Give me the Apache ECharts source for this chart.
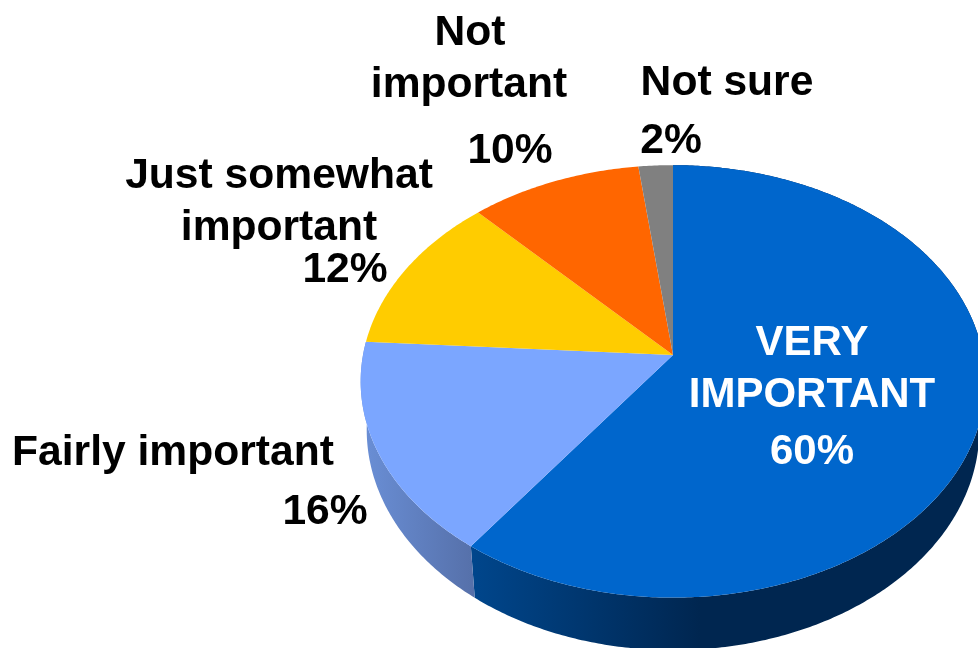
<!DOCTYPE html>
<html>
<head>
<meta charset="utf-8">
<style>
  html, body { margin: 0; padding: 0; background: #fff; overflow: hidden; }
  #chart { width: 978px; height: 648px; }
</style>
<script src="https://cdn.jsdelivr.net/npm/echarts@6/dist/echarts.min.js"></script>
</head>
<body>
<div id="chart"></div>
<script>
// slices, clockwise from 12 o'clock
var categories = ['VERY IMPORTANT', 'Fairly important', 'Just somewhat important', 'Not important', 'Not sure'];
var values = [60, 16, 12, 10, 2];
var colors = ['#0066cc', '#7ba6ff', '#ffcc00', '#ff6600', '#808080'];

// text lines per slice: [text, x, y, align]
var labelLines = [
  [['VERY', 812, 343, 'center'], ['IMPORTANT', 812, 395, 'center'], ['60%', 812, 452, 'center']],
  [['Fairly important', 173, 453, 'center'], ['16%', 325, 512, 'center']],
  [['Just somewhat', 279, 176, 'center'], ['important', 279, 228, 'center'], ['12%', 345, 270, 'center']],
  [['Not', 470, 33, 'center'], ['important', 469, 85, 'center'], ['10%', 510, 151, 'center']],
  [['Not sure', 727, 83, 'center'], ['2%', 671, 141, 'center']]
];

var total = values.reduce(function (a, b) { return a + b; }, 0);

// tilted disc: perspective projection of a circle
var cx = 673;
var persp = 0.122;
var topFace = { cy: 355, rx: 310, ry: 213 };
var bottomFace = { cy: 403, rx: 304, ry: 217 };

function project(face, a) {
  var u = Math.sin(a);
  var v = -Math.cos(a);
  var d = 1 - persp * v;
  return [cx + face.rx * u / d, face.cy + face.ry * v / d];
}

function arcPoints(face, a0, a1) {
  var pts = [];
  var n = Math.max(2, Math.ceil((a1 - a0) / 0.01));
  for (var i = 0; i <= n; i++) {
    pts.push(project(face, a0 + (a1 - a0) * i / n));
  }
  return pts;
}

function sliceAngles(idx) {
  var before = 0;
  for (var i = 0; i < idx; i++) before += values[i];
  return [before / total * 2 * Math.PI, (before + values[idx]) / total * 2 * Math.PI];
}

var wallFills = [
  new echarts.graphic.LinearGradient(472, 0, 700, 0, [
    { offset: 0, color: '#00468c' },
    { offset: 1, color: '#002650' }
  ], true),
  new echarts.graphic.LinearGradient(362, 0, 478, 0, [
    { offset: 0, color: '#6a8fd6' },
    { offset: 1, color: '#556fa8' }
  ], true)
];

var seriesData = values.map(function (v, i) { return { name: categories[i], value: v }; });

option = {
  animation: false,
  series: [
    {
      // side wall, only the two front slices show it
      type: 'custom',
      coordinateSystem: 'none',
      silent: true,
      z: 1,
      data: seriesData,
      renderItem: function (params) {
        var i = params.dataIndex;
        if (i > 1) return;
        var ang = sliceAngles(i);
        var pts = arcPoints(topFace, ang[0], ang[1]).concat(arcPoints(bottomFace, ang[0], ang[1]).reverse());
        return { type: 'polygon', shape: { points: pts }, style: { fill: wallFills[i] } };
      }
    },
    {
      // top face
      type: 'custom',
      coordinateSystem: 'none',
      silent: true,
      z: 2,
      data: seriesData,
      renderItem: function (params) {
        var i = params.dataIndex;
        var ang = sliceAngles(i);
        var pts = [[cx, topFace.cy]].concat(arcPoints(topFace, ang[0], ang[1]));
        return { type: 'polygon', shape: { points: pts }, style: { fill: colors[i] } };
      }
    },
    {
      // labels
      type: 'custom',
      coordinateSystem: 'none',
      silent: true,
      z: 3,
      data: seriesData,
      renderItem: function (params) {
        var i = params.dataIndex;
        return {
          type: 'group',
          children: labelLines[i].map(function (l) {
            return {
              type: 'text',
              style: {
                text: l[0],
                x: l[1],
                y: l[2],
                align: l[3],
                verticalAlign: 'middle',
                fill: i === 0 ? '#ffffff' : '#000000',
                font: 'bold ' + (i === 0 ? 42 : 42.6) + 'px "Liberation Sans", Arial, sans-serif'
              }
            };
          })
        };
      }
    }
  ]
};

var myChart = echarts.init(document.getElementById('chart'), null, { renderer: 'canvas' });
myChart.setOption(option);
</script>
</body>
</html>
